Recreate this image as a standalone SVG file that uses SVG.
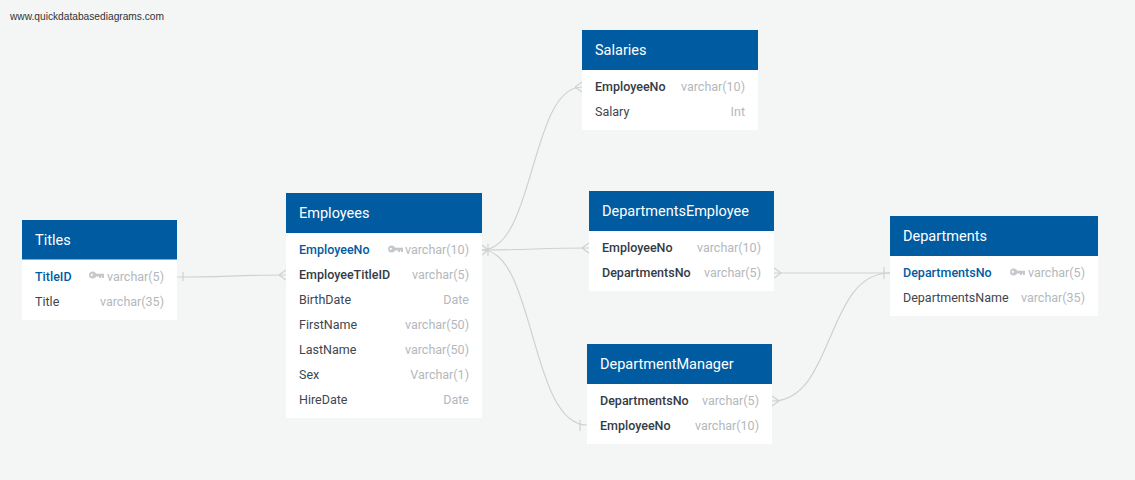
<svg xmlns="http://www.w3.org/2000/svg" width="1135" height="480" viewBox="0 0 1135 480">
<style>
text{font-family:Roboto,"Liberation Sans",sans-serif;font-size:12.5px;dominant-baseline:auto}
.bg{fill:#f4f6f6}
.body{fill:#fff}
.head{fill:#005ba1}
.title{fill:#fff;font-size:14.5px}
.n{fill:#3d4650}
.b{font-weight:500;fill:#333b45}
.pk{font-weight:500;fill:#005ba1}
.t{fill:#b4b8bd;text-anchor:end}
.url{fill:#333;font-family:"Liberation Sans",Arial,sans-serif;font-size:10.2px}
.c{fill:none;stroke:#cfd1d1;stroke-width:1.2}
.k{fill:#c5c9cd}
</style>
<defs>
<g id="key"><circle cx="3.6" cy="0" r="3.6" class="k"/><rect x="5" y="-1.3" width="10" height="2.8" class="k"/><rect x="10" y="0" width="2" height="3" class="k"/><rect x="13" y="0" width="2" height="3" class="k"/><circle cx="2.8" cy="-0.2" r="1.1" fill="#fff"/></g>
</defs>
<rect class="bg" width="1135" height="480"/>
<text class="url" x="10" y="20">www.quickdatabasediagrams.com</text>
<g id="connectors">
<path class="c" d="M177 277C220 277 240 275 286 275"/>
<path class="c" d="M183 272V281M279 275L286 270M279 275L286 280"/>
<path class="c" d="M482 250C535 250 530 87 582 87"/>
<path class="c" d="M482 250C530 250 540 248 589 248"/>
<path class="c" d="M482 250C535 250 530 425 587 425"/>
<path class="c" d="M488 244V256M482 245L488 250L482 255"/>
<path class="c" d="M575 87L582 82M575 87L582 92"/>
<path class="c" d="M582 248L589 243M582 248L589 253"/>
<path class="c" d="M580 420V431"/>
<path class="c" d="M774 273C810 273 850 273 890 273" stroke-width="1.5"/>
<path class="c" d="M772 401C835 401 825 273 890 273"/>
<path class="c" d="M774 268L781 273L774 278M772 396L779 401L772 406"/>
<path class="c" d="M884 267V279"/>
</g>
<g id="titles">
<rect class="body" x="22" y="220" width="155" height="100"/><rect class="head" x="22" y="220" width="155" height="39.500"/>
<text class="title" x="35" y="245">Titles</text>
<text class="pk" x="35" y="281">TitleID</text><use href="#key" x="89" y="275"/><text class="t" x="164" y="281">varchar(5)</text>
<text class="n" x="35" y="306">Title</text><text class="t" x="164" y="306">varchar(35)</text>
</g>
<g id="employees">
<rect class="body" x="286" y="193" width="196" height="225"/><rect class="head" x="286" y="193" width="196" height="40"/>
<text class="title" x="299" y="218">Employees</text>
<text class="pk" x="299" y="254">EmployeeNo</text><use href="#key" x="388" y="249"/><text class="t" x="469" y="254">varchar(10)</text>
<text class="b" x="299" y="279">EmployeeTitleID</text><text class="t" x="469" y="279">varchar(5)</text>
<text class="n" x="299" y="304">BirthDate</text><text class="t" x="469" y="304">Date</text>
<text class="n" x="299" y="329">FirstName</text><text class="t" x="469" y="329">varchar(50)</text>
<text class="n" x="299" y="354">LastName</text><text class="t" x="469" y="354">varchar(50)</text>
<text class="n" x="299" y="379">Sex</text><text class="t" x="469" y="379">Varchar(1)</text>
<text class="n" x="299" y="404">HireDate</text><text class="t" x="469" y="404">Date</text>
</g>
<g id="salaries">
<rect class="body" x="582" y="30" width="176" height="100"/><rect class="head" x="582" y="30" width="176" height="40"/>
<text class="title" x="595" y="55">Salaries</text>
<text class="b" x="595" y="91">EmployeeNo</text><text class="t" x="745" y="91">varchar(10)</text>
<text class="n" x="595" y="116">Salary</text><text class="t" x="745" y="116">Int</text>
</g>
<g id="departmentsemployee">
<rect class="body" x="589" y="191" width="185" height="100"/><rect class="head" x="589" y="191" width="185" height="40"/>
<text class="title" x="602" y="216">DepartmentsEmployee</text>
<text class="b" x="602" y="252">EmployeeNo</text><text class="t" x="761" y="252">varchar(10)</text>
<text class="b" x="602" y="277">DepartmentsNo</text><text class="t" x="761" y="277">varchar(5)</text>
</g>
<g id="departmentmanager">
<rect class="body" x="587" y="344" width="185" height="100"/><rect class="head" x="587" y="344" width="185" height="40"/>
<text class="title" x="600" y="369">DepartmentManager</text>
<text class="b" x="600" y="405">DepartmentsNo</text><text class="t" x="759" y="405">varchar(5)</text>
<text class="b" x="600" y="430">EmployeeNo</text><text class="t" x="759" y="430">varchar(10)</text>
</g>
<g id="departments">
<rect class="body" x="890" y="216" width="208" height="100"/><rect class="head" x="890" y="216" width="208" height="40"/>
<text class="title" x="903" y="241">Departments</text>
<text class="pk" x="903" y="277">DepartmentsNo</text><use href="#key" x="1010" y="272"/><text class="t" x="1085" y="277">varchar(5)</text>
<text class="n" x="903" y="302">DepartmentsName</text><text class="t" x="1085" y="302">varchar(35)</text>
</g>
</svg>
